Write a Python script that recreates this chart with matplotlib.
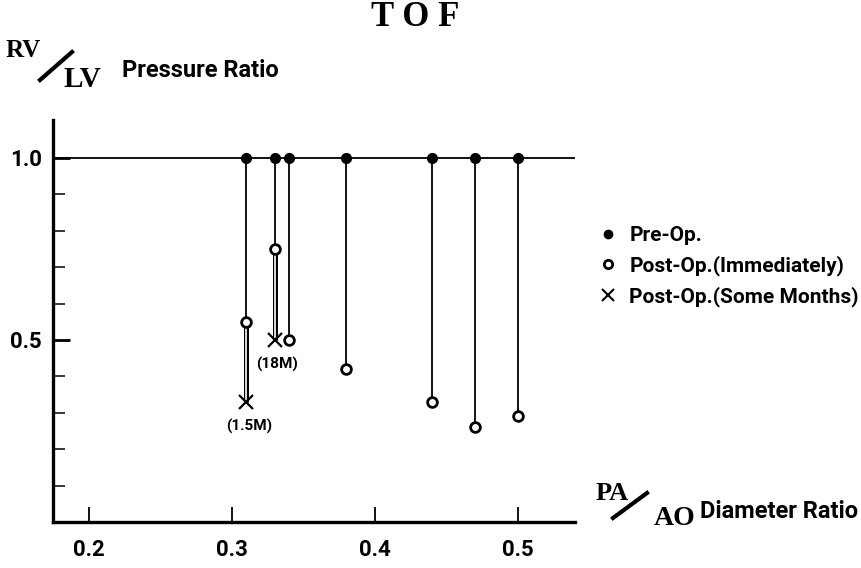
import matplotlib
matplotlib.use("Agg")
import matplotlib.pyplot as plt
from matplotlib.lines import Line2D
from matplotlib import font_manager as fm

# ---------------- data ----------------
pa_ao = [0.31, 0.33, 0.34, 0.38, 0.44, 0.47, 0.50]
pre_op = [1.0, 1.0, 1.0, 1.0, 1.0, 1.0, 1.0]
post_imm = [0.55, 0.75, 0.50, 0.42, 0.33, 0.26, 0.29]
months_x = [0.31, 0.33]
months_from = [0.55, 0.75]
months_y = [0.33, 0.50]
months_labels = ["(1.5M)", "(18M)"]
x_ticks = [0.2, 0.3, 0.4, 0.5]
x_ticklabels = ["0.2", "0.3", "0.4", "0.5"]
y_major = [0.5, 1.0]
y_ticklabels = ["0.5", "1.0"]
y_minor = [0.1, 0.2, 0.3, 0.4, 0.6, 0.7, 0.8, 0.9]
legend_labels = ["Pre-Op.", "Post-Op.(Immediately)", "Post-Op.(Some Months)"]

# ---------------- fonts ----------------
COND = dict(family=["Roboto", "DejaVu Sans"], weight="bold")
SERIF = dict(family=["Liberation Serif", "DejaVu Serif"], weight="bold")

W, H = 861, 568
fig = plt.figure(figsize=(W / 100, H / 100), dpi=100)
ax = fig.add_axes([53 / W, 46 / H, 522 / W, 402 / H])

ax.set_xlim(0.175, 0.54)
ax.set_ylim(0.0, 1.104)

for s in ("top", "right"):
    ax.spines[s].set_visible(False)
ax.spines["left"].set_linewidth(2.4)
ax.spines["bottom"].set_linewidth(2.4)

ax.set_xticks(x_ticks)
ax.set_xticklabels(x_ticklabels, fontsize=16, **COND)
ax.set_yticks(y_major)
ax.set_yticklabels(y_ticklabels, fontsize=16, **COND)
ax.set_yticks(y_minor, minor=True)
ax.tick_params(axis="x", direction="in", length=11, width=1.3, pad=12)
ax.tick_params(axis="y", which="major", direction="in", length=12, width=2.0, pad=8)
ax.tick_params(axis="y", which="minor", direction="in", length=8.5, width=1.1)

# reference line at ratio 1.0
ax.axhline(1.0, color="black", lw=1.3, zorder=1)

# stems from pre-op to immediate post-op
ax.vlines(pa_ao, post_imm, pre_op, colors="black", lw=1.3, zorder=2)

# double-line arrows to follow-up values
for x, y0, y1 in zip(months_x, months_from, months_y):
    ax.plot([x, x], [y0, y1], color="black", lw=3.6, solid_capstyle="butt", zorder=2)
    ax.plot([x, x], [y0, y1], color="white", lw=1.2, solid_capstyle="butt", zorder=2.1)

ax.plot(pa_ao, pre_op, "o", color="black", ms=7, zorder=4, clip_on=False)
ax.plot(pa_ao, post_imm, "o", mfc="white", mec="black", mew=2.0, ms=7, zorder=4)
ax.plot(months_x, months_y, "x", color="black", ms=10, mew=1.6, zorder=4)

for x, y, lab in zip(months_x, months_y, months_labels):
    ax.annotate(lab, (x, y), xytext=(2, -18), textcoords="offset points",
                ha="center", va="center", fontsize=11, **COND)

# legend
handles = [
    Line2D([], [], ls="none", marker="o", color="black", ms=6),
    Line2D([], [], ls="none", marker="o", mfc="white", mec="black", mew=2.0, ms=6),
    Line2D([], [], ls="none", marker="x", color="black", ms=9, mew=1.5),
]
ax.legend(handles, legend_labels, loc="upper left",
          bbox_to_anchor=(599 / W, 1 - 226 / H), bbox_transform=fig.transFigure,
          frameon=False, borderpad=0, borderaxespad=0, handlelength=0.85,
          handletextpad=0.6, labelspacing=0.5,
          prop=fm.FontProperties(size=15, **COND))

# title
fig.text(415 / W, 1 - 18 / H, "T O F", ha="center", va="center", fontsize=25, **SERIF)

# y label: RV/LV Pressure Ratio
fig.text(6 / W, 1 - 57 / H, "RV", ha="left", va="baseline", fontsize=18, **SERIF)
fig.add_artist(Line2D([40 / W, 72 / W], [1 - 80 / H, 1 - 52 / H], color="black",
                      lw=3.0, transform=fig.transFigure))
fig.text(64 / W, 1 - 87 / H, "LV", ha="left", va="baseline", fontsize=21, **SERIF)
fig.text(122 / W, 1 - 77 / H, "Pressure Ratio", ha="left", va="baseline", fontsize=17, **COND)

# x label: PA/AO Diameter Ratio
fig.text(596 / W, 1 - 500 / H, "PA", ha="left", va="baseline", fontsize=19, **SERIF)
fig.add_artist(Line2D([613 / W, 647 / W], [1 - 518 / H, 1 - 493 / H], color="black",
                      lw=3.0, transform=fig.transFigure))
fig.text(654 / W, 1 - 525 / H, "AO", ha="left", va="baseline", fontsize=20, **SERIF)
fig.text(700 / W, 1 - 518 / H, "Diameter Ratio", ha="left", va="baseline", fontsize=17, **COND)

fig.savefig("out.png", dpi=100)
